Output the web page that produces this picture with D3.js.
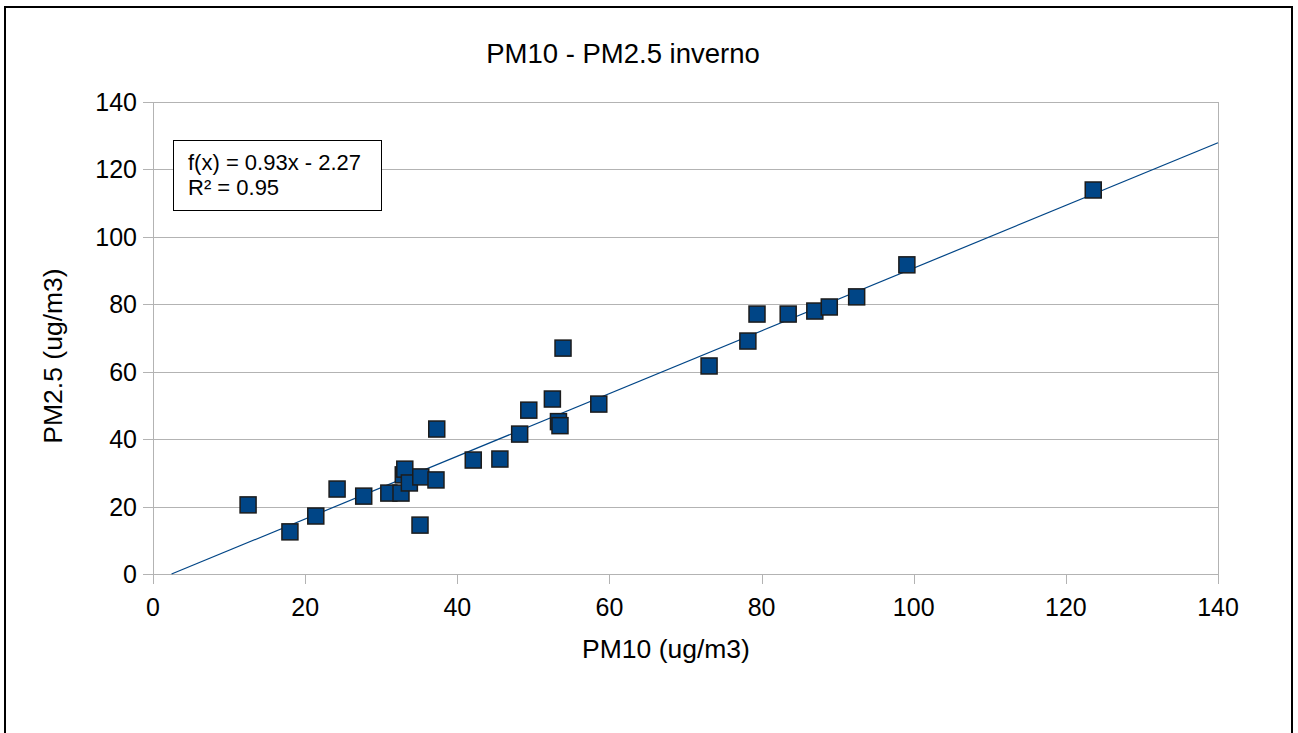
<!DOCTYPE html>
<html>
<head>
<meta charset="utf-8">
<script src="https://cdn.jsdelivr.net/npm/d3@7"></script>
<style>
  body { margin: 0; background: #fff; }
  text { font-family: "Liberation Sans", Arial, sans-serif; fill: #000; }
</style>
</head>
<body>
<script>
// PM10 vs PM2.5 winter samples (ug/m3)
var pm10 = [12.5, 18.0, 21.4, 24.2, 27.7, 31.0, 32.6, 32.9, 33.1, 33.7, 35.2, 37.2,
            35.1, 37.3, 42.1, 45.6, 48.2, 49.4, 52.5, 53.3, 53.5, 53.9, 58.6, 73.1,
            78.2, 79.4, 83.5, 87.0, 88.9, 92.5, 99.1, 123.6];
var pm25 = [20.5, 12.5, 17.2, 25.2, 23.1, 24.0, 24.0, 29.4, 31.1, 27.0, 28.8, 27.9,
            14.5, 43.0, 33.8, 34.1, 41.5, 48.6, 51.9, 45.2, 44.0, 67.0, 50.4, 61.7,
            69.1, 77.1, 77.1, 78.0, 79.2, 82.2, 91.7, 113.9];
var ticks = [0, 20, 40, 60, 80, 100, 120, 140];
var slope = 0.93, intercept = -2.27;
var eqText = ["f(x) = 0.93x - 2.27", "R\u00b2 = 0.95"];

var w = 1298, h = 733;
var svg = d3.select("body").append("svg")
  .attr("width", w).attr("height", h);

// outer frame (no bottom edge visible)
svg.append("path")
  .attr("d", "M5,733 V7 H1292 V733")
  .attr("fill", "none").attr("stroke", "#000").attr("stroke-width", 2);

var pLeft = 153, pRight = 1218, pTop = 102, pBottom = 574;
var x = d3.scaleLinear().domain([0, 140]).range([pLeft, pRight]);
var y = d3.scaleLinear().domain([0, 140]).range([pBottom, pTop]);

// gridlines
svg.selectAll(".grid").data(ticks).enter().append("line")
  .attr("x1", pLeft - 10).attr("x2", pRight)
  .attr("y1", function(d){ return Math.round(y(d)) + 0.5; })
  .attr("y2", function(d){ return Math.round(y(d)) + 0.5; })
  .attr("stroke", "#b3b3b3").attr("stroke-width", 1);

// y axis line + right border
svg.append("line").attr("x1", pLeft + 0.5).attr("x2", pLeft + 0.5)
  .attr("y1", pTop).attr("y2", pBottom + 10)
  .attr("stroke", "#b3b3b3");
svg.append("line").attr("x1", pRight + 0.5).attr("x2", pRight + 0.5)
  .attr("y1", pTop).attr("y2", pBottom + 10)
  .attr("stroke", "#b3b3b3");

// x ticks
svg.selectAll(".xt").data(ticks.slice(1, -1)).enter().append("line")
  .attr("x1", function(d){ return Math.round(x(d)) + 0.5; })
  .attr("x2", function(d){ return Math.round(x(d)) + 0.5; })
  .attr("y1", pBottom).attr("y2", pBottom + 10)
  .attr("stroke", "#b3b3b3");

// tick labels
svg.selectAll(".yl").data(ticks).enter().append("text")
  .attr("x", 137).attr("y", function(d){ return y(d) + 9; })
  .attr("text-anchor", "end").attr("font-size", 25)
  .text(function(d){ return d; });
svg.selectAll(".xl").data(ticks).enter().append("text")
  .attr("x", function(d){ return x(d); }).attr("y", 616)
  .attr("text-anchor", "middle").attr("font-size", 25)
  .text(function(d){ return d; });

// titles
svg.append("text").attr("x", 623).attr("y", 63)
  .attr("text-anchor", "middle").attr("font-size", 27.5)
  .text("PM10 - PM2.5 inverno");
svg.append("text").attr("x", 666).attr("y", 658)
  .attr("text-anchor", "middle").attr("font-size", 26.5)
  .text("PM10 (ug/m3)");
svg.append("text")
  .attr("transform", "translate(62,356) rotate(-90)")
  .attr("text-anchor", "middle").attr("font-size", 26.5)
  .text("PM2.5 (ug/m3)");

// trend line
var x0 = -intercept / slope;
svg.append("line")
  .attr("x1", x(x0)).attr("y1", y(0))
  .attr("x2", x(140)).attr("y2", y(slope * 140 + intercept))
  .attr("stroke", "#004586").attr("stroke-width", 1.2);

// points
var s = 16;
svg.selectAll(".pt").data(pm10).enter().append("rect")
  .attr("x", function(d){ return x(d) - s / 2; })
  .attr("y", function(d, i){ return y(pm25[i]) - s / 2; })
  .attr("width", s).attr("height", s)
  .attr("fill", "#004586").attr("stroke", "#1c1c1c").attr("stroke-width", 1.5);

// equation box
svg.append("rect").attr("x", 173.5).attr("y", 140.5)
  .attr("width", 208).attr("height", 70)
  .attr("fill", "#fff").attr("stroke", "#000").attr("stroke-width", 1);
svg.selectAll(".eq").data(eqText).enter().append("text")
  .attr("x", 188).attr("y", function(d, i){ return 170 + i * 25; })
  .attr("font-size", 22)
  .text(function(d){ return d; });
</script>
</body>
</html>
